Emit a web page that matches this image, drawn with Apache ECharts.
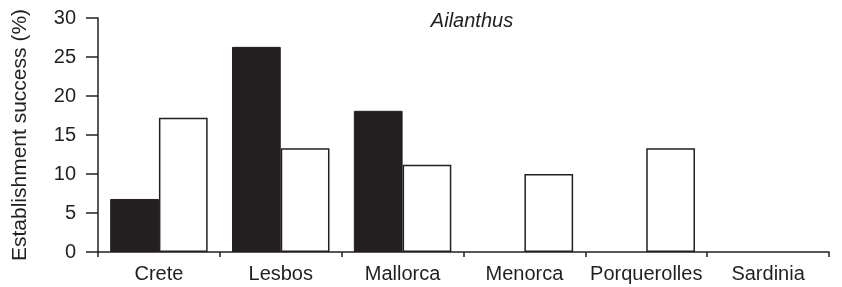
<!DOCTYPE html>
<html>
<head>
<meta charset="utf-8">
<script src="https://cdn.jsdelivr.net/npm/echarts@6/dist/echarts.min.js"></script>
<style>
  html, body { margin: 0; padding: 0; background: #fff; }
  #chart { width: 842px; height: 287px; }
</style>
</head>
<body>
<div id="chart"></div>
<script>
const islands = ["Crete", "Lesbos", "Mallorca", "Menorca", "Porquerolles", "Sardinia"];
// black bars and open bars, values in % (null = no bar drawn)
const blackValues = [6.8, 26.3, 18.1, null, null, null];
const openValues = [17.2, 13.3, 11.2, 10.0, 13.3, null];
const yTicks = [0, 5, 10, 15, 20, 25, 30];

const ink = "#231f20";
const font = "'Liberation Sans', Arial, sans-serif";

const myChart = echarts.init(document.getElementById("chart"));

myChart.setOption({
  animation: false,
  backgroundColor: "#fff",
  title: {
    text: "Ailanthus",
    left: 467,
    top: 6,
    textAlign: "center",
    textStyle: { fontFamily: font, fontStyle: "italic", fontWeight: "normal", fontSize: 20, color: ink },
  },
  grid: { left: 98, right: 13, top: 18, bottom: 35 },
  xAxis: {
    type: "category",
    data: islands,
    axisLine: { lineStyle: { color: ink, width: 1.5 } },
    axisTick: { show: true, length: 5, lineStyle: { color: ink, width: 1.5 } },
    axisLabel: { fontFamily: font, fontSize: 20, color: ink, margin: 12, interval: 0 },
  },
  yAxis: {
    type: "value",
    min: yTicks[0],
    max: yTicks[yTicks.length - 1],
    interval: 5,
    name: "Establishment success (%)",
    nameLocation: "middle",
    nameGap: 67,
    nameTextStyle: { fontFamily: font, fontSize: 21, color: ink },
    axisLine: { show: true, lineStyle: { color: ink, width: 1.5 } },
    axisTick: { show: true, length: 12, lineStyle: { color: ink, width: 1.5 } },
    axisLabel: { fontFamily: font, fontSize: 20, color: ink, margin: 22 },
    splitLine: { show: false },
  },
  series: [
    {
      type: "bar",
      data: blackValues,
      barGap: "0%",
      barCategoryGap: "20%",
      itemStyle: { color: ink, borderColor: ink, borderWidth: 1 },
    },
    {
      type: "bar",
      data: openValues,
      itemStyle: { color: "#fff", borderColor: ink, borderWidth: 1.5 },
    },
  ],
});
</script>
</body>
</html>
